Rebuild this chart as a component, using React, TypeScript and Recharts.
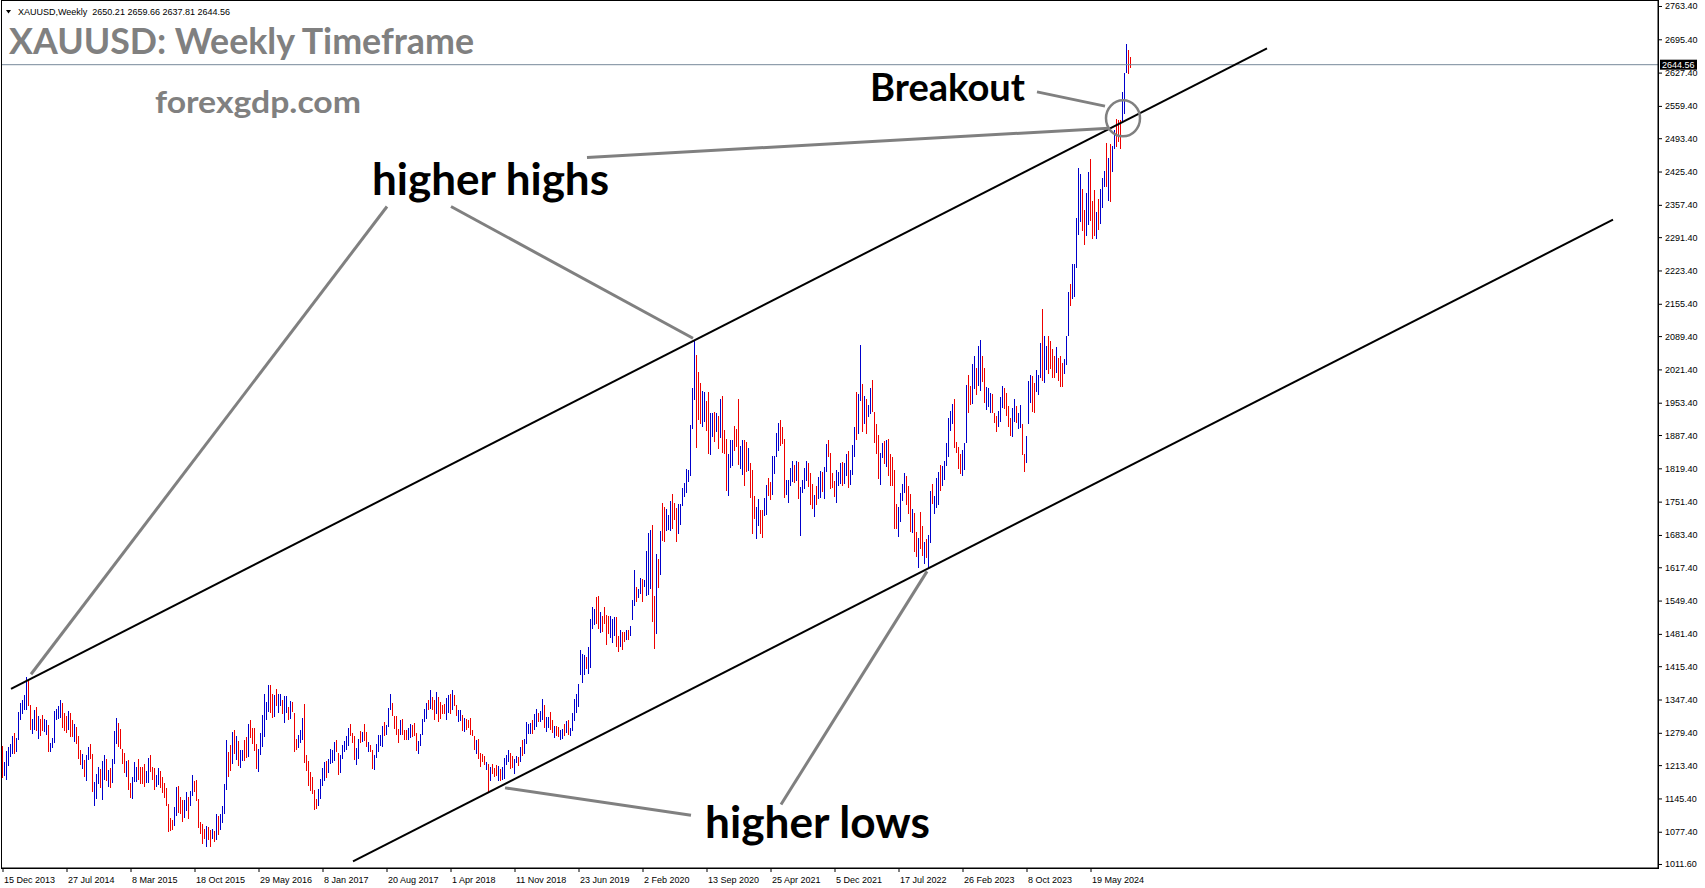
// XauusdWeekly.tsx
import React from "react";
import {
  ComposedChart,
  Bar,
  XAxis,
  YAxis,
  ReferenceLine,
  ReferenceDot,
} from "recharts";

// weekly high / low, first bar = week of 15 Dec 2013
const highs = [
  1254, 1221, 1243, 1252, 1258, 1274, 1280, 1270, 1323, 1341,
  1347, 1358, 1394, 1390, 1337, 1309, 1327, 1333, 1315, 1309,
  1317, 1309, 1307, 1296, 1260, 1270, 1325, 1329, 1335, 1347,
  1341, 1321, 1315, 1325, 1321, 1307, 1299, 1292, 1274, 1245,
  1237, 1225, 1235, 1252, 1258, 1237, 1180, 1197, 1211, 1207,
  1223, 1235, 1227, 1205, 1209, 1227, 1284, 1311, 1301, 1288,
  1247, 1239, 1223, 1225, 1178, 1190, 1221, 1211, 1227, 1211,
  1211, 1217, 1203, 1229, 1235, 1211, 1209, 1194, 1209, 1203,
  1190, 1178, 1168, 1135, 1107, 1103, 1129, 1170, 1172, 1150,
  1143, 1143, 1160, 1150, 1162, 1194, 1182, 1184, 1145, 1098,
  1094, 1084, 1090, 1088, 1082, 1084, 1080, 1115, 1111, 1115,
  1131, 1176, 1266, 1241, 1256, 1282, 1286, 1274, 1264, 1245,
  1245, 1266, 1272, 1299, 1307, 1290, 1290, 1258, 1248, 1280,
  1317, 1360, 1343, 1378, 1378, 1360, 1358, 1370, 1360, 1360,
  1348, 1356, 1356, 1333, 1345, 1343, 1321, 1268, 1276, 1286,
  1311, 1339, 1235, 1223, 1201, 1190, 1164, 1145, 1166, 1186,
  1209, 1221, 1223, 1227, 1247, 1245, 1262, 1266, 1239, 1235,
  1256, 1264, 1274, 1290, 1299, 1280, 1274, 1250, 1268, 1284,
  1282, 1299, 1282, 1262, 1256, 1245, 1235, 1258, 1276, 1276,
  1294, 1303, 1296, 1331, 1360, 1341, 1315, 1315, 1288, 1307,
  1309, 1286, 1286, 1290, 1298, 1296, 1301, 1280, 1264, 1278,
  1309, 1329, 1341, 1348, 1368, 1354, 1348, 1364, 1354, 1343,
  1337, 1339, 1352, 1358, 1360, 1368, 1358, 1337, 1327, 1327,
  1317, 1311, 1309, 1307, 1311, 1286, 1274, 1266, 1268, 1239,
  1237, 1233, 1221, 1217, 1211, 1217, 1209, 1215, 1213, 1207,
  1211, 1229, 1235, 1245, 1239, 1233, 1227, 1233, 1231, 1252,
  1266, 1268, 1303, 1299, 1301, 1307, 1319, 1329, 1321, 1325,
  1350, 1337, 1313, 1313, 1323, 1307, 1295, 1295, 1292, 1286,
  1288, 1299, 1305, 1307, 1290, 1321, 1350, 1360, 1380, 1450,
  1441, 1439, 1435, 1456, 1513, 1537, 1533, 1558, 1560, 1527,
  1519, 1537, 1521, 1519, 1519, 1513, 1517, 1517, 1478, 1491,
  1486, 1486, 1491, 1491, 1499, 1552, 1613, 1578, 1574, 1597,
  1595, 1593, 1652, 1689, 1695, 1705, 1560, 1646, 1636, 1693,
  1750, 1742, 1738, 1725, 1754, 1768, 1750, 1740, 1748, 1748,
  1780, 1791, 1819, 1817, 1909, 1985, 2080, 2052, 2017, 1995,
  1978, 1976, 1958, 1976, 1934, 1934, 1936, 1934, 1927, 1962,
  1968, 1899, 1880, 1850, 1878, 1878, 1907, 1901, 1962, 1866,
  1878, 1878, 1874, 1862, 1831, 1817, 1764, 1742, 1758, 1735,
  1735, 1760, 1787, 1801, 1793, 1846, 1846, 1893, 1913, 1919,
  1905, 1880, 1797, 1797, 1821, 1835, 1827, 1835, 1833, 1782,
  1797, 1821, 1835, 1831, 1811, 1789, 1766, 1784, 1803, 1815,
  1813, 1823, 1870, 1878, 1852, 1811, 1795, 1817, 1813, 1831,
  1833, 1831, 1850, 1856, 1817, 1868, 1905, 1976, 1972, 2072,
  1993, 1968, 1962, 1950, 1985, 2001, 1936, 1911, 1889, 1852,
  1872, 1876, 1878, 1880, 1850, 1844, 1817, 1748, 1742, 1770,
  1788, 1811, 1805, 1784, 1768, 1738, 1730, 1691, 1678, 1731,
  1703, 1670, 1676, 1684, 1774, 1789, 1764, 1801, 1813, 1827,
  1825, 1836, 1872, 1923, 1938, 1952, 1962, 1874, 1864, 1850,
  1858, 1872, 1991, 2011, 1989, 2034, 2050, 2025, 2070, 2083,
  2050, 2025, 1987, 1985, 1974, 1972, 1934, 1927, 1938, 1966,
  1989, 1985, 1974, 1948, 1923, 1944, 1962, 1948, 1934, 1950,
  1911, 1850, 1886, 1999, 2011, 2009, 1995, 2021, 2011, 2076,
  2146, 2091, 2070, 2091, 2081, 2064, 2050, 2068, 2046, 2050,
  2036, 2044, 2091, 2181, 2197, 2238, 2238, 2332, 2434, 2421,
  2391, 2348, 2383, 2425, 2452, 2366, 2389, 2344, 2370, 2391,
  2413, 2428, 2485, 2454, 2483, 2479, 2511, 2534, 2532, 2532,
  2589, 2628, 2687, 2675, 2660,
];

const lows = [
  1188, 1192, 1183, 1214, 1232, 1237, 1237, 1242, 1266, 1307,
  1319, 1327, 1327, 1335, 1286, 1278, 1286, 1284, 1268, 1274,
  1284, 1282, 1276, 1241, 1241, 1250, 1260, 1307, 1309, 1311,
  1290, 1284, 1280, 1286, 1272, 1272, 1262, 1258, 1227, 1215,
  1207, 1190, 1182, 1225, 1227, 1160, 1131, 1145, 1176, 1168,
  1143, 1184, 1182, 1170, 1168, 1178, 1217, 1258, 1252, 1247,
  1217, 1198, 1190, 1164, 1148, 1145, 1180, 1180, 1184, 1176,
  1176, 1170, 1178, 1178, 1200, 1184, 1164, 1170, 1174, 1168,
  1158, 1148, 1131, 1078, 1080, 1082, 1090, 1111, 1117, 1115,
  1098, 1107, 1121, 1105, 1131, 1152, 1160, 1141, 1086, 1074,
  1054, 1064, 1047, 1062, 1047, 1064, 1058, 1062, 1072, 1082,
  1096, 1115, 1164, 1190, 1203, 1217, 1237, 1225, 1213, 1209,
  1223, 1223, 1229, 1231, 1270, 1258, 1243, 1207, 1201, 1235,
  1252, 1272, 1307, 1323, 1321, 1311, 1313, 1335, 1321, 1335,
  1319, 1301, 1321, 1307, 1309, 1323, 1241, 1245, 1250, 1260,
  1266, 1219, 1203, 1172, 1162, 1156, 1123, 1125, 1131, 1145,
  1172, 1182, 1188, 1198, 1217, 1219, 1223, 1241, 1194, 1198,
  1227, 1241, 1245, 1254, 1274, 1260, 1225, 1215, 1227, 1260,
  1262, 1264, 1252, 1241, 1241, 1207, 1205, 1229, 1241, 1254,
  1252, 1274, 1276, 1292, 1327, 1315, 1288, 1276, 1260, 1276,
  1276, 1266, 1266, 1266, 1270, 1272, 1274, 1243, 1237, 1254,
  1276, 1303, 1309, 1327, 1329, 1327, 1307, 1319, 1303, 1309,
  1319, 1319, 1307, 1321, 1319, 1327, 1335, 1315, 1303, 1305,
  1284, 1282, 1286, 1290, 1276, 1274, 1245, 1237, 1227, 1211,
  1221, 1215, 1205, 1160, 1182, 1196, 1190, 1192, 1182, 1182,
  1184, 1186, 1215, 1221, 1207, 1209, 1196, 1219, 1213, 1221,
  1233, 1237, 1258, 1278, 1278, 1278, 1286, 1292, 1303, 1303,
  1307, 1290, 1282, 1290, 1286, 1280, 1270, 1274, 1272, 1266,
  1268, 1274, 1280, 1276, 1274, 1284, 1305, 1321, 1333, 1399,
  1382, 1399, 1411, 1401, 1413, 1492, 1500, 1503, 1492, 1484,
  1486, 1503, 1460, 1482, 1474, 1464, 1478, 1456, 1446, 1456,
  1450, 1466, 1470, 1470, 1478, 1511, 1540, 1548, 1556, 1564,
  1548, 1578, 1560, 1563, 1575, 1507, 1451, 1483, 1577, 1604,
  1672, 1670, 1693, 1695, 1693, 1697, 1715, 1670, 1686, 1705,
  1744, 1762, 1770, 1793, 1805, 1901, 1960, 1862, 1919, 1911,
  1905, 1915, 1897, 1850, 1848, 1885, 1874, 1895, 1860, 1882,
  1852, 1850, 1774, 1764, 1821, 1825, 1856, 1864, 1827, 1819,
  1807, 1784, 1813, 1815, 1760, 1686, 1717, 1676, 1703, 1686,
  1678, 1723, 1725, 1764, 1756, 1766, 1809, 1844, 1856, 1866,
  1870, 1760, 1766, 1750, 1784, 1793, 1791, 1795, 1758, 1682,
  1770, 1778, 1795, 1782, 1746, 1738, 1721, 1746, 1758, 1760,
  1772, 1758, 1813, 1844, 1778, 1780, 1762, 1750, 1784, 1789,
  1784, 1789, 1805, 1780, 1787, 1807, 1844, 1878, 1891, 1958,
  1895, 1911, 1891, 1925, 1931, 1936, 1872, 1850, 1799, 1787,
  1842, 1829, 1823, 1805, 1784, 1784, 1697, 1697, 1680, 1711,
  1754, 1770, 1746, 1727, 1691, 1688, 1650, 1640, 1617, 1656,
  1642, 1625, 1638, 1617, 1668, 1748, 1727, 1740, 1746, 1774,
  1785, 1797, 1825, 1844, 1897, 1911, 1862, 1852, 1819, 1809,
  1805, 1817, 1872, 1934, 1950, 1952, 1983, 1970, 1989, 1978,
  1997, 1954, 1940, 1946, 1933, 1933, 1913, 1895, 1905, 1915,
  1944, 1942, 1927, 1905, 1887, 1885, 1915, 1913, 1901, 1903,
  1848, 1813, 1830, 1911, 1954, 1936, 1934, 1976, 1970, 2005,
  2000, 1995, 2021, 2013, 2023, 2005, 2005, 2015, 1999, 1987,
  1987, 2013, 2031, 2091, 2152, 2166, 2170, 2230, 2297, 2323,
  2305, 2277, 2295, 2317, 2326, 2289, 2295, 2289, 2307, 2319,
  2352, 2395, 2395, 2366, 2364, 2425, 2473, 2477, 2487, 2473,
  2528, 2544, 2628, 2626, 2638,
];

// u = bull bar (blue), d = bear bar (red), groups of ten weeks
const barDirs = (
  "duuuuuduuu uuudduudud duuduuuuuu dddudduddd uduudduuud " +
  "uududuuudd ddudduuudd dduuddduud dddddduudd duuduudddd " +
  "dduddududu uuuddududu uddudddduu uuuudduduu duududdduu " +
  "uddddddduu uuduuuuddu uuuuddduud uddudduuuu uduuuddddu " +
  "ddduuddduu uuududdudd dduududduu dudddddudd ddududddud " +
  "uuuudduudu duuuuduudu uduudduddu ududuuuuuu uuduuuuddu " +
  "dddduuuddu dduduuuduu duuuuddudu dduuuddduu uuuuuuuddd " +
  "uudduududu ddduuudddu udduddduud duudduuuud dduuuududu " +
  "uuuddduduu duudddduuu duuduuuduu duduuddddu ududdddduu " +
  "uuddduddud duduuduuud uuuuuudddd uuudduuduu dduuuddduu " +
  "udddduuduu dduuudduuu duuddddudd duuuduuuuu dduudddudu " +
  "uududuuddd uuudd"
).replace(/ /g, "");

const dateTickBars = [0, 32, 64, 96, 128, 160, 192, 224, 256, 288, 320, 352, 384, 416, 448, 480, 512, 544];
const dateLabels = [
  "15 Dec 2013", "27 Jul 2014", "8 Mar 2015", "18 Oct 2015", "29 May 2016", "8 Jan 2017",
  "20 Aug 2017", "1 Apr 2018", "11 Nov 2018", "23 Jun 2019", "2 Feb 2020", "13 Sep 2020",
  "25 Apr 2021", "5 Dec 2021", "17 Jul 2022", "26 Feb 2023", "8 Oct 2023", "19 May 2024",
];

const priceTicks = [
  2763.4, 2695.4, 2627.4, 2559.4, 2493.4, 2425.4, 2357.4, 2291.4, 2223.4, 2155.4,
  2089.4, 2021.4, 1953.4, 1887.4, 1819.4, 1751.4, 1683.4, 1617.4, 1549.4, 1481.4,
  1415.4, 1347.4, 1279.4, 1213.4, 1145.4, 1077.4, 1011.6,
];

const lastOhlc = [2650.21, 2659.66, 2637.81, 2644.56];
const lastPrice = lastOhlc[3];

// trend channel and leader lines, anchored as (bar index, price)
const upperChannel = [{ x: 4, y: 1370 }, { x: 632, y: 2678 }];
const lowerChannel = [{ x: 175, y: 1018 }, { x: 805, y: 2328 }];
const leaderLines = [
  [{ x: 192, y: 2355 }, { x: 14, y: 1400 }],
  [{ x: 224, y: 2355 }, { x: 345, y: 2086 }],
  [{ x: 292, y: 2455 }, { x: 553, y: 2515 }],
  [{ x: 517, y: 2589 }, { x: 551, y: 2560 }],
  [{ x: 251, y: 1168 }, { x: 344, y: 1112 }],
  [{ x: 389, y: 1134 }, { x: 462, y: 1610 }],
];
const breakoutPoint = { x: 560, y: 2535 };

const SLOTS = 828; // visible bar slots incl. the empty right margin
const BULL = "#0000cc";
const BEAR = "#ee0000";
const AXIS_FONT = "'Liberation Sans', Arial, sans-serif";
const NOTE_FONT = "Lato, 'Open Sans', sans-serif";

const chartData = Array.from({ length: SLOTS }, (_, i) =>
  i < highs.length
    ? { i, hl: [lows[i], highs[i]], up: barDirs[i] === "u" }
    : { i, hl: null, up: false }
);

const labelByBar: Record<number, string> = {};
dateTickBars.forEach((b, k) => (labelByBar[b] = dateLabels[k]));

const HighLowBar = (props: any) => {
  const { x, y, width, height, payload } = props;
  if (!payload || !payload.hl) return <g />;
  const px = Math.floor(x + width / 2);
  return (
    <rect
      x={px}
      y={Math.round(y)}
      width={1}
      height={Math.max(1, Math.round(height))}
      fill={payload.up ? BULL : BEAR}
      shapeRendering="crispEdges"
    />
  );
};

const DateTick = ({ x, y, payload }: any) => (
  <text x={x + 1} y={y + 9} fontSize={9} fontFamily={AXIS_FONT} fill="#000">
    {labelByBar[payload.value]}
  </text>
);

const PriceTick = ({ x, y, payload }: any) => (
  <text x={x} y={y + 3} fontSize={9} fontFamily={AXIS_FONT} fill="#000">
    {Number(payload.value).toFixed(2)}
  </text>
);

const PriceTag = ({ viewBox }: any) => {
  if (!viewBox) return null;
  const x = viewBox.x + viewBox.width + 2;
  return (
    <g>
      <rect x={x} y={viewBox.y - 5} width={37} height={10} fill="#000" />
      <text x={x + 2} y={viewBox.y + 3.5} fontSize={9} fontFamily={AXIS_FONT} fill="#fff">
        {lastPrice.toFixed(2)}
      </text>
    </g>
  );
};

const Ring = ({ cx, cy }: any) => (
  <ellipse cx={cx} cy={cy} rx={17} ry={18} fill="none" stroke="#808080" strokeWidth={2.5} />
);

const XauusdWeekly = () => {
  return (
    <div style={{ position: "absolute", left: 0, top: 0, width: 1705, height: 888, background: "#fff" }}>
      <ComposedChart
        width={1705}
        height={888}
        data={chartData}
        margin={{ top: 1, right: 0, bottom: 0, left: 2 }}
        barCategoryGap={0}
      >
        <XAxis
          dataKey="i"
          type="category"
          ticks={dateTickBars}
          interval={0}
          height={20}
          tickSize={4}
          tickMargin={2}
          axisLine={{ stroke: "#000" }}
          tickLine={{ stroke: "#000" }}
          tick={<DateTick />}
        />
        <YAxis
          orientation="right"
          type="number"
          domain={[1004.4, 2774.6]}
          allowDataOverflow
          ticks={priceTicks}
          interval={0}
          width={47}
          tickSize={4}
          tickMargin={3}
          axisLine={{ stroke: "#000" }}
          tickLine={{ stroke: "#000" }}
          tick={<PriceTick />}
        />
        <Bar dataKey="hl" barSize={2} shape={<HighLowBar />} isAnimationActive={false} />

        <ReferenceLine y={lastPrice} stroke="#778899" strokeWidth={1} label={<PriceTag />} />
        <ReferenceLine segment={upperChannel} stroke="#000" strokeWidth={2} ifOverflow="visible" />
        <ReferenceLine segment={lowerChannel} stroke="#000" strokeWidth={2} ifOverflow="visible" />
        {leaderLines.map((seg, k) => (
          <ReferenceLine key={k} segment={seg} stroke="#808080" strokeWidth={3} ifOverflow="visible" />
        ))}
        <ReferenceDot x={breakoutPoint.x} y={breakoutPoint.y} r={17} shape={<Ring />} ifOverflow="visible" />
      </ComposedChart>

      {/* frame, header and the hand-placed notes */}
      <svg
        width={1705}
        height={888}
        style={{ position: "absolute", left: 0, top: 0, pointerEvents: "none" }}
      >
        <rect x={1.5} y={0.5} width={1657} height={868} fill="none" stroke="#000" />
        <polygon points="6,10 11,10 8.5,13.5" fill="#000" />
        <text x={18} y={15} fontSize={9} fontFamily={AXIS_FONT} fill="#000" xmlSpace="preserve">
          {"XAUUSD,Weekly  " + lastOhlc.map((v) => v.toFixed(2)).join(" ")}
        </text>
        <text x={9} y={54} fontSize={36} fontWeight={700} fontFamily={NOTE_FONT} fill="#808080"
          textLength={465} lengthAdjust="spacingAndGlyphs">
          XAUUSD: Weekly Timeframe
        </text>
        <text x={155} y={113} fontSize={31} fontWeight={700} fontFamily={NOTE_FONT} fill="#808080"
          textLength={206} lengthAdjust="spacingAndGlyphs">
          forexgdp.com
        </text>
        <text x={372} y={195} fontSize={44} fontWeight={700} fontFamily={NOTE_FONT} fill="#000"
          textLength={237} lengthAdjust="spacingAndGlyphs">
          higher highs
        </text>
        <text x={870} y={101} fontSize={38} fontWeight={700} fontFamily={NOTE_FONT} fill="#000"
          textLength={155} lengthAdjust="spacingAndGlyphs">
          Breakout
        </text>
        <text x={705} y={838} fontSize={44} fontWeight={700} fontFamily={NOTE_FONT} fill="#000"
          textLength={225} lengthAdjust="spacingAndGlyphs">
          higher lows
        </text>
      </svg>
    </div>
  );
};

export default XauusdWeekly;
